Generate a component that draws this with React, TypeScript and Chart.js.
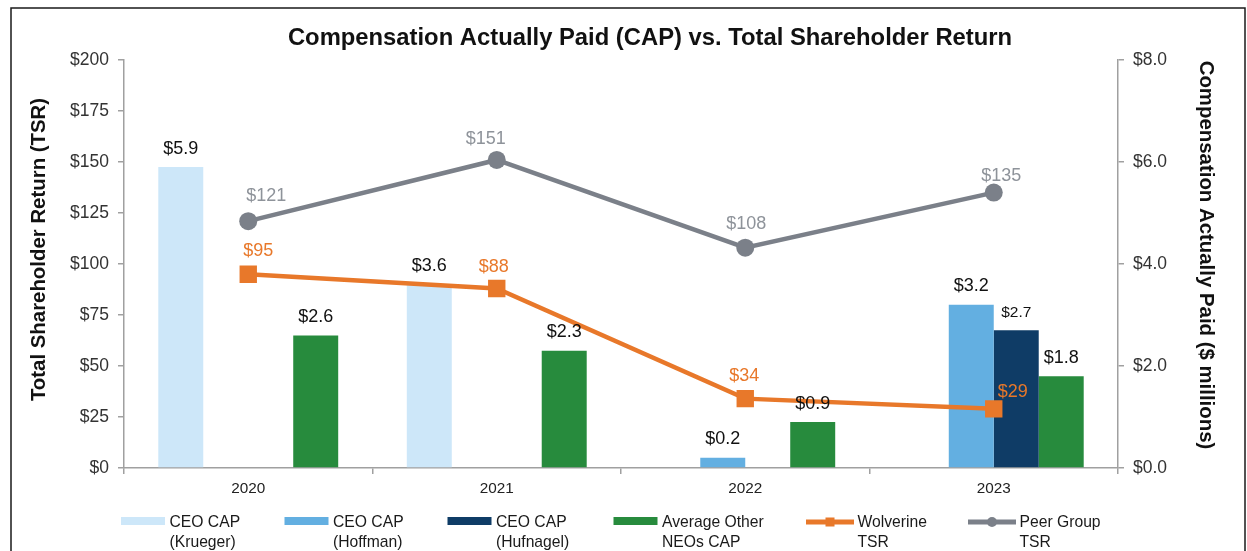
import React, { useEffect, useRef } from "react";
import { Chart, registerables } from "chart.js";

Chart.register(...registerables);

// ---------- data ----------
const YEARS = ["2020", "2021", "2022", "2023"];
const CAP_KRUEGER = [5.9, 3.6, null, null];
const CAP_HOFFMAN = [null, null, 0.2, 3.2];
const CAP_HUFNAGEL = [null, null, null, 2.7];
const CAP_OTHER_NEOS = [2.6, 2.3, 0.9, 1.8];
const TSR_WOLVERINE = [95, 88, 34, 29];
const TSR_PEER = [121, 151, 108, 135];
const TSR_AXIS = [0, 200, 25]; // min, max, step
const CAP_AXIS = [0, 8, 2]; // min, max, step

const TITLE = "Compensation Actually Paid (CAP) vs. Total Shareholder Return";
const LEFT_TITLE = "Total Shareholder Return (TSR)";
const RIGHT_TITLE = "Compensation Actually Paid ($ millions)";

const LEGEND_KRUEGER = ["CEO CAP", "(Krueger)"];
const LEGEND_HOFFMAN = ["CEO CAP", "(Hoffman)"];
const LEGEND_HUFNAGEL = ["CEO CAP", "(Hufnagel)"];
const LEGEND_OTHER = ["Average Other", "NEOs CAP"];
const LEGEND_WOLVERINE = ["Wolverine", "TSR"];
const LEGEND_PEER = ["Peer Group", "TSR"];

// ---------- style / layout ----------
const FONT = "'Liberation Sans', Arial, Helvetica, sans-serif";
const C_KRUEGER = "#CDE7F9";
const C_HOFFMAN = "#63AFE1";
const C_HUFNAGEL = "#0F3C66";
const C_OTHER = "#278B3D";
const C_ORANGE = "#E8782A";
const C_GRAY = "#7B8089";
const C_GRAY_LABEL = "#8E939A";
const AXIS_GRAY = "#A0A0A0";

// label nudges (dx, dy to baseline) for line point labels
const WOLVERINE_LABEL_NUDGE = [[10, -18], [-3, -16], [-1, -17.5], [19, -12]];
const PEER_LABEL_NUDGE = [[18, -20], [-11, -15.5], [1, -19], [7.5, -12]];
const LEGEND_X = [121, 284.5, 447.5, 613.5, 806, 968];

const labelsPlugin = {
  id: "valueLabels",
  afterDatasetsDraw(chart: any) {
    const ctx = chart.ctx;
    ctx.save();
    chart.data.datasets.forEach((ds: any, i: number) => {
      const meta = chart.getDatasetMeta(i);
      meta.data.forEach((el: any, j: number) => {
        const v = ds.data[j];
        if (v === null || v === undefined) return;
        ctx.textAlign = "center";
        ctx.textBaseline = "alphabetic";
        if (ds.type === "line") {
          const [dx, dy] = ds.labelNudge[j];
          ctx.font = `18px ${FONT}`;
          ctx.fillStyle = ds.labelColor;
          ctx.fillText("$" + v, el.x + dx, el.y + dy);
        } else {
          ctx.font = `${ds.labelSize}px ${FONT}`;
          ctx.fillStyle = "#111111";
          ctx.fillText("$" + Number(v).toFixed(1), el.x, el.y - 13.5);
        }
      });
    });
    ctx.restore();
  },
};

const decorPlugin = {
  id: "decor",
  afterDraw(chart: any) {
    const ctx = chart.ctx;
    ctx.save();
    // frame
    ctx.strokeStyle = "#1a1a1a";
    ctx.lineWidth = 1.5;
    ctx.strokeRect(11, 8, 1234, 600);
    // title
    ctx.fillStyle = "#111111";
    ctx.font = `bold 23.8px ${FONT}`;
    ctx.textAlign = "center";
    ctx.textBaseline = "alphabetic";
    ctx.fillText(TITLE, 650, 44.5);
    // axis titles
    ctx.font = `bold 20.4px ${FONT}`;
    ctx.save();
    ctx.translate(45, 249.5);
    ctx.rotate(-Math.PI / 2);
    ctx.fillText(LEFT_TITLE, 0, 0);
    ctx.restore();
    ctx.save();
    ctx.translate(1200, 255);
    ctx.rotate(Math.PI / 2);
    ctx.fillText(RIGHT_TITLE, 0, 0);
    ctx.restore();
    // legend
    ctx.textAlign = "left";
    ctx.font = `15.7px ${FONT}`;
    chart.data.datasets.forEach((ds: any, i: number) => {
      const x = LEGEND_X[i];
      let tx;
      if (ds.type === "line") {
        ctx.strokeStyle = ds.borderColor;
        ctx.lineWidth = 5;
        ctx.beginPath();
        ctx.moveTo(x, 522);
        ctx.lineTo(x + 48, 522);
        ctx.stroke();
        ctx.fillStyle = ds.borderColor;
        if (ds.pointStyle === "rect") {
          ctx.fillRect(x + 24 - 4.5, 522 - 4.5, 9, 9);
        } else {
          ctx.beginPath();
          ctx.arc(x + 24, 522, 5, 0, Math.PI * 2);
          ctx.fill();
        }
        tx = x + 51.5;
      } else {
        ctx.fillStyle = ds.backgroundColor;
        ctx.fillRect(x, 517, 44, 8);
        tx = x + 48.5;
      }
      ctx.fillStyle = "#1a1a1a";
      ds.legendLines.forEach((line: string, k: number) => {
        ctx.fillText(line, tx, 527 + k * 19.6);
      });
    });
    ctx.restore();
  },
};

export default function App() {
  const ref = useRef<HTMLCanvasElement | null>(null);

  useEffect(() => {
    if (!ref.current) return;
    const barCommon = {
      type: "bar",
      yAxisID: "y1",
      order: 1,
      borderWidth: 0,
      categoryPercentage: 0.724,
      barPercentage: 1.0,
    };
    const chart = new Chart(ref.current, {
      type: "bar",
      data: {
        labels: YEARS,
        datasets: [
          { ...barCommon, label: "CEO CAP (Krueger)", data: CAP_KRUEGER, backgroundColor: C_KRUEGER, legendLines: LEGEND_KRUEGER, labelSize: 18 },
          { ...barCommon, label: "CEO CAP (Hoffman)", data: CAP_HOFFMAN, backgroundColor: C_HOFFMAN, legendLines: LEGEND_HOFFMAN, labelSize: 18 },
          { ...barCommon, label: "CEO CAP (Hufnagel)", data: CAP_HUFNAGEL, backgroundColor: C_HUFNAGEL, legendLines: LEGEND_HUFNAGEL, labelSize: 15.5 },
          { ...barCommon, label: "Average Other NEOs CAP", data: CAP_OTHER_NEOS, backgroundColor: C_OTHER, legendLines: LEGEND_OTHER, labelSize: 18 },
          {
            type: "line", label: "Wolverine TSR", data: TSR_WOLVERINE, yAxisID: "y", order: 0,
            borderColor: C_ORANGE, backgroundColor: C_ORANGE, borderWidth: 4.5,
            pointStyle: "rect", pointRadius: 12.3, pointBackgroundColor: C_ORANGE, pointBorderWidth: 0,
            labelColor: C_ORANGE, labelNudge: WOLVERINE_LABEL_NUDGE, legendLines: LEGEND_WOLVERINE,
          },
          {
            type: "line", label: "Peer Group TSR", data: TSR_PEER, yAxisID: "y", order: 0,
            borderColor: C_GRAY, backgroundColor: C_GRAY, borderWidth: 4.5,
            pointStyle: "circle", pointRadius: 9, pointBackgroundColor: C_GRAY, pointBorderWidth: 0,
            labelColor: C_GRAY_LABEL, labelNudge: PEER_LABEL_NUDGE, legendLines: LEGEND_PEER,
          },
        ] as any,
      },
      options: {
        responsive: false,
        maintainAspectRatio: false,
        devicePixelRatio: 1,
        animation: false,
        events: [],
        layout: { padding: { top: 60, left: 0, right: 0, bottom: 0 } },
        plugins: {
          legend: { display: false },
          title: { display: false },
          tooltip: { enabled: false },
        },
        scales: {
          x: {
            offset: true,
            grid: { offset: true, drawOnChartArea: false, drawTicks: true, tickLength: 6, color: AXIS_GRAY, lineWidth: 1.5 },
            border: { display: true, color: AXIS_GRAY, width: 1.5 },
            ticks: { font: { family: FONT, size: 15.3 }, color: "#222222", padding: 5.5 },
            afterFit: (s: any) => { s.height = 83; },
          },
          y: {
            position: "left",
            min: TSR_AXIS[0], max: TSR_AXIS[1],
            grid: { drawOnChartArea: false, drawTicks: true, tickLength: 6, color: AXIS_GRAY, lineWidth: 1.5 },
            border: { display: true, color: AXIS_GRAY, width: 1.5 },
            ticks: { stepSize: TSR_AXIS[2], font: { family: FONT, size: 17.5 }, color: "#333333", padding: 9, callback: (v: any) => "$" + v },
            afterFit: (s: any) => { s.width = 124; },
          },
          y1: {
            position: "right",
            min: CAP_AXIS[0], max: CAP_AXIS[1],
            grid: { drawOnChartArea: false, drawTicks: true, tickLength: 6, color: AXIS_GRAY, lineWidth: 1.5 },
            border: { display: true, color: AXIS_GRAY, width: 1.5 },
            ticks: { stepSize: CAP_AXIS[2], font: { family: FONT, size: 17.5 }, color: "#333333", padding: 9, callback: (v: any) => "$" + Number(v).toFixed(1) },
            afterFit: (s: any) => { s.width = 129; },
          },
        },
      } as any,
      plugins: [labelsPlugin, decorPlugin],
    });
    return () => chart.destroy();
  }, []);

  return (
    <div style={{ position: "fixed", left: 0, top: 0, width: 1247, height: 551, background: "#ffffff" }}>
      <canvas ref={ref} width={1247} height={551} style={{ display: "block", width: 1247, height: 551 }} />
    </div>
  );
}
